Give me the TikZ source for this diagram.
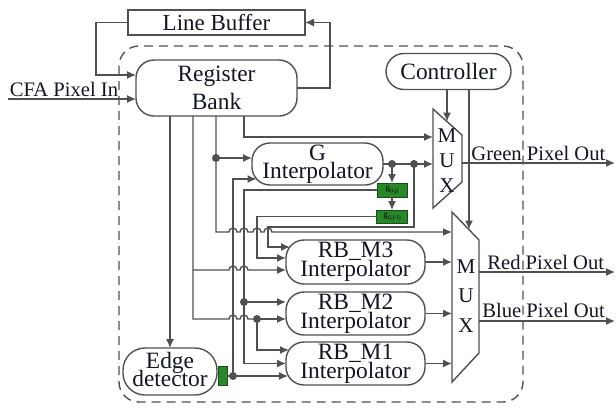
\documentclass[tikz,border=0pt]{standalone}
\usepackage{fontspec}
\setmainfont{Liberation Serif}
\usetikzlibrary{arrows.meta,calc}
\definecolor{lc}{RGB}{80,80,80}
\definecolor{tc}{RGB}{20,20,35}
\definecolor{gf}{RGB}{40,135,40}
\definecolor{gd}{RGB}{25,80,25}
\newcommand\gsub[1]{{\fontsize{4.5}{5}\selectfont g}\raisebox{-0.8pt}{\fontsize{2.8}{3}\selectfont #1}}
\begin{document}
\lineskiplimit=-20pt\relax
\begin{tikzpicture}[x=0.5pt,y=-0.5pt,
  ln/.style={draw=lc,line width=0.7pt},
  arr/.style={ln,-{Latex[length=4.5pt,width=4pt]}},
  blk/.style={draw=lc,line width=0.7pt,inner sep=0pt,outer sep=0pt,text=tc,align=center,
    font=\fontsize{11.7}{9}\selectfont},
  capbox/.style={blk,rounded corners=9pt},
  rbfont/.style={font=\fontsize{11.7}{9.5}\selectfont},
  gbox/.style={draw=gd,fill=gf,line width=0.5pt,inner sep=0pt,outer sep=0pt,text=black},
  lbl/.style={text=tc,font=\fontsize{10.3}{12}\selectfont,inner sep=0pt},
  muxt/.style={text=tc,align=center,inner sep=0pt},
  dotc/.style={fill=lc}]
\useasboundingbox (0,0) rectangle (616,408);

% dashed boundary
\draw[lc,line width=0.7pt,dash pattern=on 4.5pt off 3pt,rounded corners=10pt] (119,46) rectangle (523,402);

% blocks
\node[blk,minimum width=88.5pt,minimum height=12.5pt,font=\fontsize{11.5}{12}\selectfont] (lb) at (216.5,22.5) {Line Buffer};
\node[capbox,minimum width=80.5pt,minimum height=28pt,font=\fontsize{11.7}{14}\selectfont] (rb) at (216.5,88) {Register\\Bank};
\node[capbox,minimum width=62.5pt,minimum height=18pt] (ctrl) at (448.5,71.5) {Controller};
\node[capbox,minimum width=65.5pt,minimum height=21pt] (gi) at (317.5,164) {G\\Interpolator};
\node[capbox,rbfont,minimum width=69.5pt,minimum height=22pt] (m3) at (355.5,262) {RB\_M3\\Interpolator};
\node[capbox,rbfont,minimum width=69.5pt,minimum height=21.5pt] (m2) at (355.5,313.5) {RB\_M2\\Interpolator};
\node[capbox,rbfont,minimum width=69.5pt,minimum height=21.5pt] (m1) at (355.5,363.5) {RB\_M1\\Interpolator};
\node[capbox,minimum width=47pt,minimum height=23.5pt,rounded corners=11pt,text depth=2pt] (ed) at (170,371.5) {Edge\\detector};
\node[gbox,minimum width=4.5pt,minimum height=9.5pt] (gs) at (222.5,376) {};
\node[gbox,minimum width=15pt,minimum height=7pt] (g1) at (392,190) {\gsub{(i,j)}};
\node[gbox,minimum width=15.5pt,minimum height=6.5pt] (g2) at (392,216.5) {\gsub{(i,j-1)}};

% multiplexers
\draw[ln] (433,109) -- (462,135) -- (462,182) -- (433,208) -- cycle;
\draw[ln] (452,212) -- (479,240) -- (479,353) -- (452,382) -- cycle;
\node[muxt,font=\fontsize{10.5}{12.5}\selectfont] (mxt1) at (447,161) {M\\U\\X};
\node[muxt,font=\fontsize{10.5}{14.75}\selectfont] (mxt2) at (466,296) {M\\U\\X};

% connection points
\coordinate (cfa) at (8,99);
\coordinate (mx1a) at (433,137);
\coordinate (mx1b) at (433,164);
\coordinate (mx1s) at (447,121.5);
\coordinate (mx1o) at (462,163);
\coordinate (mx2a) at (452,232);
\coordinate (mx2s) at (469,229.5);
\coordinate (mx2r) at (479,272);
\coordinate (mx2b) at (479,321);
\coordinate (gout) at (615,163);
\coordinate (rout) at (615,272);
\coordinate (bout) at (615,321);
\coordinate (t1) at (193,270);
\coordinate (t2) at (193,319);
\coordinate (dA) at (257,319);
\coordinate (dB) at (216,158);
\coordinate (k1) at (244,137);
\coordinate (dC) at (392,164);
\coordinate (dD) at (414,164);
\coordinate (dE) at (244,302);
\coordinate (dF) at (233,376);
\coordinate (c257) at (257,258);
\coordinate (c268) at (268,227);

% labels
\node[lbl,anchor=base] (lin) at (64,96) {CFA Pixel In};
\node[lbl,anchor=base west] (lg) at (471,160) {Green Pixel Out};
\node[lbl,anchor=base west] (lr) at (487,269) {Red Pixel Out};
\node[lbl,anchor=base west] (lbo) at (482,317) {Blue Pixel Out};

% input and line buffer loop
\draw[arr] (cfa) -- (cfa -| rb.west);
\draw[arr] (lb.west) -- (96,22.5) |- ($(rb.west)+(0,-13)$);
\draw[arr] (rb.east) -- (330,88) |- (lb.east);

% register bank outputs
\draw[arr] (rb.south -| ed.north) -- (ed.north);
\draw[ln] (rb.south -| t1) -- (t2) -- (229,319) arc[start angle=180,end angle=0,radius=2pt]
  -- (240,319) arc[start angle=180,end angle=0,radius=2pt] -- (dA);
\draw[arr] (t1) -- (229,270) arc[start angle=180,end angle=0,radius=2pt]
  -- (240,270) arc[start angle=180,end angle=0,radius=2pt] -- (t1 -| m3.west);
\draw[arr] (dA) -- (dA -| m2.west);
\draw[arr] (dA) |- ($(m1.west)+(3,-13.5)$);
\draw[arr] (rb.south -| dB) -- (216,232) -- (229,232) arc[start angle=180,end angle=0,radius=2pt]
  -- (240,232) arc[start angle=180,end angle=0,radius=2pt]
  -- (253,232) arc[start angle=180,end angle=0,radius=2pt]
  -- (264,232) arc[start angle=180,end angle=0,radius=2pt] -- (mx2a);
\draw[arr] (dB) -- (dB -| gi.west);
\draw[arr] (rb.south -| k1) -- (k1) -- (mx1a);

% G interpolator outputs
\draw[arr] (gi.east) -- (mx1b);
\draw[arr] (dC) -- (g1.north);
\draw[arr] (g1.south) -- (g2.north);
\draw[arr] (dD) |- (c268) |- ($(m3.west)+(4,-15)$);
\draw[arr] (g1.west) -| (dE) |- (m1.west);
\draw[arr] (dE) -- (dE -| m2.west);
\draw[arr] (g2.west) -| (c257) -- (c257 -| m3.west);

% edge detector
\draw[ln] (gs.east) -- (dF);
\draw[arr] (dF) -- ($(m1.west)+(2,12.5)$);
\draw[arr] (dF) |- ($(gi.west)+(4.5,15)$);

% controller
\draw[arr] (ctrl.south -| mx1s) -- (mx1s);
\draw[arr] (ctrl.south -| mx2s) -- (mx2s);

% mux2 inputs and outputs
\draw[arr] (m3.east) -- (m3.east -| mx2a);
\draw[arr] (m2.east) -- (m2.east -| mx2a);
\draw[arr] (m1.east) -- (m1.east -| mx2a);
\draw[arr] (mx1o) -- (gout);
\draw[arr] (mx2r) -- (rout);
\draw[arr] (mx2b) -- (bout);

% junction dots
\foreach \p in {dA,dB,dC,dD,dE,dF} \fill[dotc] (\p) circle[radius=2pt];
\end{tikzpicture}
\end{document}
